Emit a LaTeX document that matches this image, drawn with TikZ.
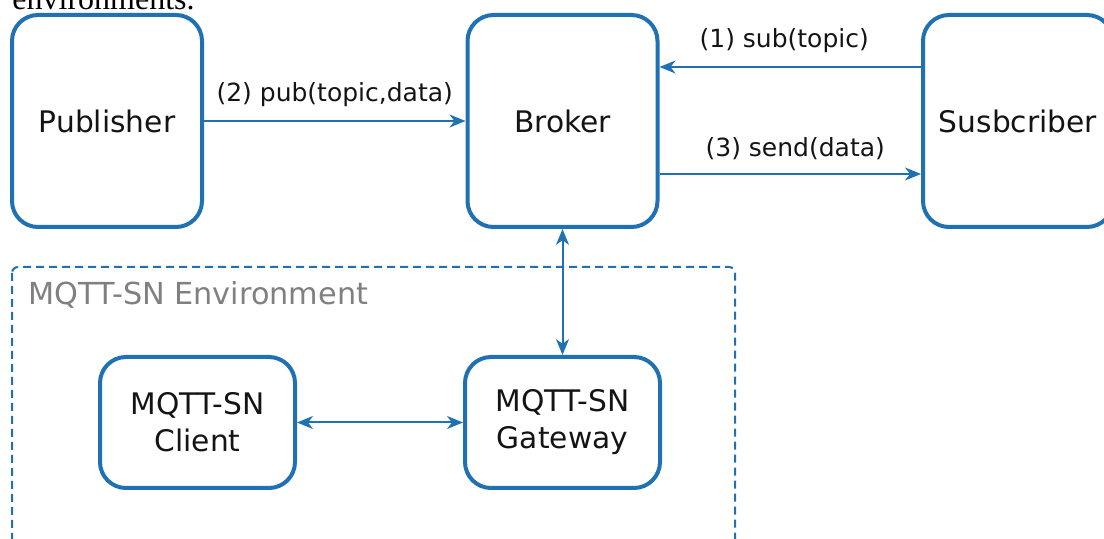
\documentclass[tikz,border=0pt]{standalone}
\usepackage{fontspec}
\setmainfont{DejaVu Sans}
\newfontfamily\topserif{Liberation Serif}
\usetikzlibrary{arrows.meta}
\definecolor{boxblue}{RGB}{31,113,179}
\definecolor{txt}{RGB}{20,20,20}
\definecolor{envgray}{RGB}{128,128,128}
\begin{document}
\begin{tikzpicture}[x=0.5pt,y=-0.5pt,
  >={Stealth[length=8pt,width=6.5pt,inset=2.5pt]},
  box/.style={draw=boxblue, line width=2pt, rounded corners=13pt, fill=white, text=txt, align=center, font=\fontsize{14.85}{18.5}\selectfont, inner sep=0pt},
  bigbox/.style={box, minimum width=95pt, minimum height=106pt},
  smallbox/.style={box, minimum width=97.5pt, minimum height=65.5pt},
  conn/.style={draw=boxblue, line width=1pt},
  lab/.style={font=\fontsize{12.5}{15}\selectfont, text=txt, inner sep=0pt, above=6.5pt},
  envbox/.style={draw=boxblue, line width=1pt, dash pattern=on 4pt off 2.5pt, rounded corners=3pt}
]
\useasboundingbox (0,0) rectangle (1104,539);
% cut-off caption text at top
\node[anchor=base west, inner sep=0pt, text=black, font=\topserif\fontsize{16}{18}\selectfont] (captxt) at (12,10) {environments.};
% environment frame
\draw[envbox] (12,267) rectangle (735,620);
\node[anchor=west, inner sep=0pt, text=envgray, font=\fontsize{15.15}{18}\selectfont] (envlab) at (28,295) {MQTT-SN Environment};
% boxes
\node[bigbox] (pub) at (107,121) {Publisher};
\node[bigbox] (broker) at (562.5,121) {Broker};
\node[bigbox] (sub) at (1018,121) {Susbcriber};
\node[smallbox] (client) at (197.5,422.5) {MQTT-SN\\Client};
\node[smallbox] (gw) at (562.5,422.5) {MQTT-SN\\Gateway};
% connectors
\draw[conn,->] (pub.east) -- node[lab] {(2) pub(topic,data)} (broker.west);
\draw[conn,->] ([yshift=27pt]sub.west) -- node[lab, xshift=-3pt] {(1) sub(topic)} ([yshift=27pt]broker.east);
\draw[conn,->] ([yshift=-26.5pt]broker.east) -- node[lab, xshift=2.5pt] {(3) send(data)} ([yshift=-26.5pt]sub.west);
\draw[conn,<->] (broker.south) -- (gw.north);
\draw[conn,<->] (client.east) -- (gw.west);
\end{tikzpicture}
\end{document}
